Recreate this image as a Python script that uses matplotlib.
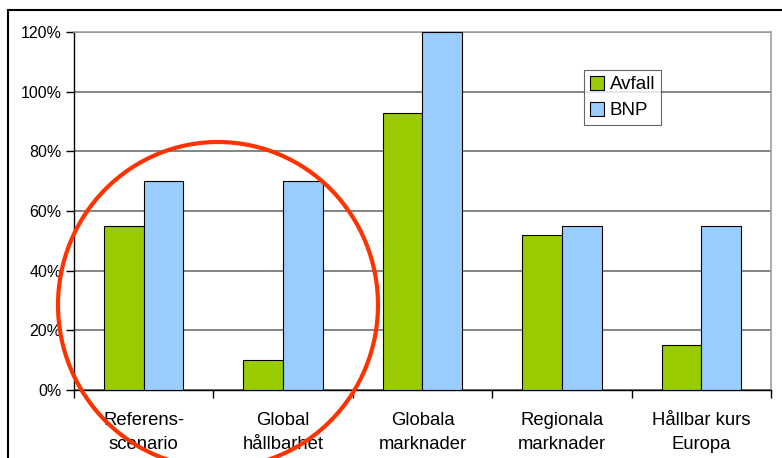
import matplotlib
matplotlib.use("Agg")
import matplotlib.pyplot as plt
from matplotlib.patches import Rectangle, Ellipse
from matplotlib.ticker import FixedLocator, PercentFormatter
import numpy as np

plt.rcParams['font.family'] = ['Liberation Sans', 'DejaVu Sans']

categories = ["Referens-\nscenario", "Global\nhållbarhet", "Globala\nmarknader",
              "Regionala\nmarknader", "Hållbar kurs\nEuropa"]
avfall = [55, 10, 93, 52, 15]
bnp = [70, 70, 120, 55, 55]
yticks = [0, 20, 40, 60, 80, 100, 120]

W, H = 782, 458
fig = plt.figure(figsize=(W/100, H/100), dpi=100)
ax = fig.add_axes([74/W, 1-390/H, (771-74)/W, (390-32)/H])

x = np.arange(len(categories))
w = 0.285
ax.bar(x - w/2, avfall, w, color='#99CC00', edgecolor='black', linewidth=0.8, label='Avfall', zorder=3)
ax.bar(x + w/2, bnp, w, color='#99CCFF', edgecolor='black', linewidth=0.8, label='BNP', zorder=3)

ax.set_xlim(-0.5, len(categories)-0.5)
ax.set_ylim(0, 120)
ax.yaxis.set_major_locator(FixedLocator(yticks))
ax.yaxis.set_major_formatter(PercentFormatter(decimals=0))
ax.grid(axis='y', color='#707070', linewidth=1.2, zorder=0)
ax.set_axisbelow(True)

ax.set_xticks(x)
ax.set_xticklabels(categories, fontsize=13.3, linespacing=1.5)
ax.set_xticks(np.arange(-0.5, len(categories)), minor=True)
ax.tick_params(axis='x', which='major', length=0, pad=16)
ax.tick_params(axis='x', which='minor', length=6, width=1, direction='out')
ax.tick_params(axis='y', labelsize=11.5, length=6, width=1, direction='out', pad=3)

for s in ['left', 'bottom']:
    ax.spines[s].set_color('black')
    ax.spines[s].set_linewidth(1)
for s in ['top', 'right']:
    ax.spines[s].set_color('#A0A0A0')
    ax.spines[s].set_linewidth(1.2)

leg = ax.legend(loc='upper left', bbox_to_anchor=(584/W, 1-70/H), bbox_transform=fig.transFigure,
                fontsize=13.5, frameon=True, fancybox=False, edgecolor='#404040',
                handlelength=0.75, handleheight=0.75, handletextpad=0.3, borderpad=0.32,
                labelspacing=0.45, borderaxespad=0)
leg.get_frame().set_linewidth(0.8)

fig.patches.append(Rectangle((8/W, -0.1), 1.0, 1-10/H+0.1, transform=fig.transFigure,
                             fill=False, edgecolor='black', linewidth=1.5))
fig.patches.append(Ellipse((218/W, 1-305/H), 320/W, 326/H, transform=fig.transFigure,
                           fill=False, edgecolor='#FF3300', linewidth=3, zorder=10))

fig.savefig('out.png', dpi=100)
